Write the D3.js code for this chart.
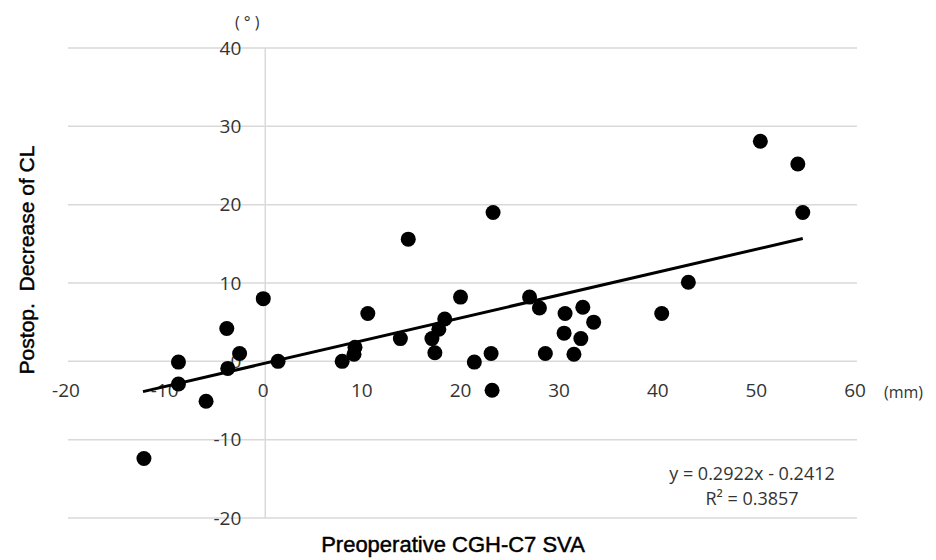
<!DOCTYPE html>
<html>
<head>
<meta charset="utf-8">
<script src="https://cdn.jsdelivr.net/npm/d3@7/dist/d3.min.js"></script>
<style>
  body { margin: 0; background: #fff; }
  .grid { stroke: #d9d9d9; stroke-width: 1.5; }
  .tick-label { font-family: "Open Sans", sans-serif; font-size: 19px; fill: #333; }
  .title { font-family: "Liberation Sans", Arial, sans-serif; fill: #000; stroke: #000; stroke-width: 0.45; }
</style>
</head>
<body>
<div class="chart"></div>
<script>
const WIDTH = 936;
const HEIGHT = 560;

// preoperative CGH-C7 SVA (mm)
var sva = [-12.3, -8.8, -8.8, -6.0, -3.9, -3.8, -2.6, -0.2, 1.3, 7.8,
           9.1, 9.0, 10.4, 13.7, 14.5, 16.9, 17.2, 17.6, 18.2, 19.8,
           21.2, 22.9, 23.1, 23.0, 26.8, 27.8, 28.4, 30.4, 30.3, 31.3,
           32.0, 32.2, 33.3, 40.2, 42.9, 50.2, 54.0, 54.5];
// postop decrease of CL (deg)
var clDecrease = [-12.4, -0.1, -2.9, -5.1, 4.2, -0.9, 1.0, 8.0, 0.0, 0.0,
                  1.8, 0.9, 6.1, 2.9, 15.6, 2.9, 1.1, 4.1, 5.4, 8.2,
                  -0.1, 1.0, 19.0, -3.7, 8.2, 6.8, 1.0, 6.1, 3.6, 0.9,
                  2.9, 6.9, 5.0, 6.1, 10.1, 28.1, 25.2, 19.0];

var xTicks = [-20, -10, 0, 10, 20, 30, 40, 50, 60];
var yTicks = [-20, -10, 0, 10, 20, 30, 40];

var slope = 0.2922;
var intercept = -0.2412;
var trendRange = [-12.4, 54.5];

var xScale = d3.scaleLinear().domain([-20, 60]).range([68, 857]);
var yScale = d3.scaleLinear().domain([-20, 40]).range([518, 48]);

var svg = d3.select(".chart").append("svg")
    .attr("width", WIDTH)
    .attr("height", HEIGHT);

// horizontal gridlines
svg.selectAll(".hgrid")
    .data(yTicks)
    .enter().append("line")
    .classed("grid", true)
    .attr("x1", xScale(-20)).attr("x2", xScale(60))
    .attr("y1", function(d) { return yScale(d); })
    .attr("y2", function(d) { return yScale(d); });

// vertical axis at x = 0
svg.append("line")
    .classed("grid", true)
    .attr("x1", xScale(0)).attr("x2", xScale(0))
    .attr("y1", yScale(40)).attr("y2", yScale(-20));

// y tick labels (left of the x=0 axis)
svg.selectAll(".ylab")
    .data(yTicks)
    .enter().append("text")
    .classed("tick-label", true)
    .attr("x", xScale(0) - 24)
    .attr("y", function(d) { return yScale(d); })
    .attr("dy", "0.35em")
    .attr("text-anchor", "end")
    .text(function(d) { return d; });

// x tick labels (below the y=0 line)
svg.selectAll(".xlab")
    .data(xTicks)
    .enter().append("text")
    .classed("tick-label", true)
    .attr("x", function(d) { return xScale(d) - 2; })
    .attr("y", yScale(0) + 29)
    .attr("dy", "0.35em")
    .attr("text-anchor", "middle")
    .text(function(d) { return d; });

// units
svg.append("text")
    .classed("tick-label", true)
    .style("font-size", "16px")
    .attr("x", xScale(60) + 27)
    .attr("y", yScale(0) + 31)
    .attr("dy", "0.35em")
    .text("(mm)");

svg.append("text")
    .classed("tick-label", true)
    .style("font-size", "16px")
    .attr("x", xScale(0) - 18)
    .attr("y", 22)
    .attr("dy", "0.35em")
    .attr("text-anchor", "middle")
    .text("( ° )");

// trendline
var line = d3.line()
    .x(function(d) { return xScale(d); })
    .y(function(d) { return yScale(slope * d + intercept); });

svg.append("path")
    .attr("d", line(trendRange))
    .attr("fill", "none")
    .attr("stroke", "#000")
    .attr("stroke-width", 3);

// points
svg.selectAll("circle")
    .data(sva)
    .enter().append("circle")
    .attr("cx", function(d) { return xScale(d); })
    .attr("cy", function(d, i) { return yScale(clDecrease[i]); })
    .attr("r", 7.5)
    .attr("fill", "#000");

// equation
svg.append("text")
    .classed("tick-label", true)
    .style("font-size", "18px")
    .attr("x", 752).attr("y", 474)
    .attr("dy", "0.35em")
    .attr("text-anchor", "middle")
    .text("y = 0.2922x - 0.2412");

svg.append("text")
    .classed("tick-label", true)
    .style("font-size", "18px")
    .attr("x", 752).attr("y", 499)
    .attr("dy", "0.35em")
    .attr("text-anchor", "middle")
    .text("R² = 0.3857");

// axis titles
svg.append("text")
    .classed("title", true)
    .style("font-size", "22px")
    .attr("x", 453).attr("y", 552)
    .attr("text-anchor", "middle")
    .text("Preoperative CGH-C7 SVA");

svg.append("text")
    .classed("title", true)
    .style("font-size", "21px")
    .style("white-space", "pre")
    .attr("transform", "translate(34,260) rotate(-90)")
    .attr("text-anchor", "middle")
    .text("Postop.  Decrease of CL");
</script>
</body>
</html>
